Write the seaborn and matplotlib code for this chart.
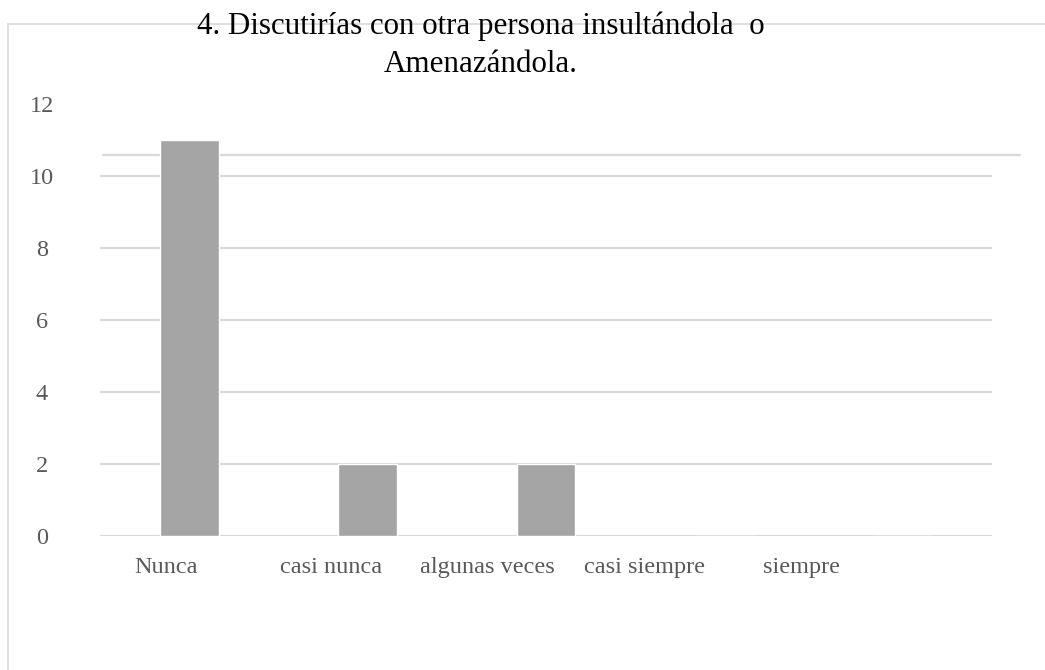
import matplotlib
matplotlib.use("Agg")
import matplotlib.pyplot as plt
import matplotlib.transforms as mtransforms
from matplotlib.lines import Line2D
from matplotlib.patches import Rectangle
import seaborn as sns
import pandas as pd

categories = ["Nunca", "casi nunca", "algunas veces", "casi siempre", "siempre"]
values = [11, 2, 2, 0, 0]
y_ticks = [0, 2, 4, 6, 8, 10, 12]
title = "4. Discutirías con otra persona insultándola  o\nAmenazándola."

sns.set_theme(style="white")
plt.rcParams["font.family"] = ["Liberation Serif", "DejaVu Serif"]

W, H = 1045, 670
fig = plt.figure(figsize=(W / 100, H / 100), dpi=100)
ax = fig.add_axes([100 / W, 1 - 536 / H, 892 / W, 432 / H])
ax.patch.set_alpha(0)

df = pd.DataFrame({"cat": categories, "val": values})
sns.barplot(data=df, x="cat", y="val", color="#a5a5a5", width=0.33,
            saturation=1, ax=ax, zorder=3)

ax.set_ylim(0, 12)
ax.set_xlim(-0.5, len(categories) - 0.5)
ax.set_yticks(y_ticks)
ax.set_xlabel("")
ax.set_ylabel("")
for s in ax.spines.values():
    s.set_visible(False)

# gridlines (none at the top value)
for v in y_ticks[:-1]:
    ax.axhline(v, color="#d9d9d9", lw=1.6, zorder=1)

ax.tick_params(axis="both", length=0, colors="#595959", labelsize=17.5)
ax.tick_params(axis="y", pad=42)
for lab in ax.get_yticklabels():
    lab.set_horizontalalignment("center")
ax.tick_params(axis="x", pad=15)

x_offsets_px = [-23, -37, -59, -80, -101]
for lab, dx in zip(ax.get_xticklabels(), x_offsets_px):
    lab.set_transform(lab.get_transform() +
                      mtransforms.ScaledTranslation(dx / 100, 0, fig.dpi_scale_trans))

# chart-area border and stray line as in the reference (behind the bars)
fig.patches.append(Rectangle((8 / W, -0.1), 1.2, 1 - 24 / H + 0.1,
                             transform=fig.transFigure, fill=False,
                             edgecolor="#d9d9d9", lw=1.2, zorder=-2))
fig.lines.append(Line2D([103 / W, 1020 / W], [1 - 155 / H, 1 - 155 / H],
                        transform=fig.transFigure, color="#d9d9d9", lw=1.6, zorder=-1))

fig.text(481 / W, 1 - 72 / H, title, ha="center", va="baseline", fontsize=22.3,
         color="#000000", linespacing=1.43, zorder=5)

fig.savefig("out.png", dpi=100, facecolor="white")
